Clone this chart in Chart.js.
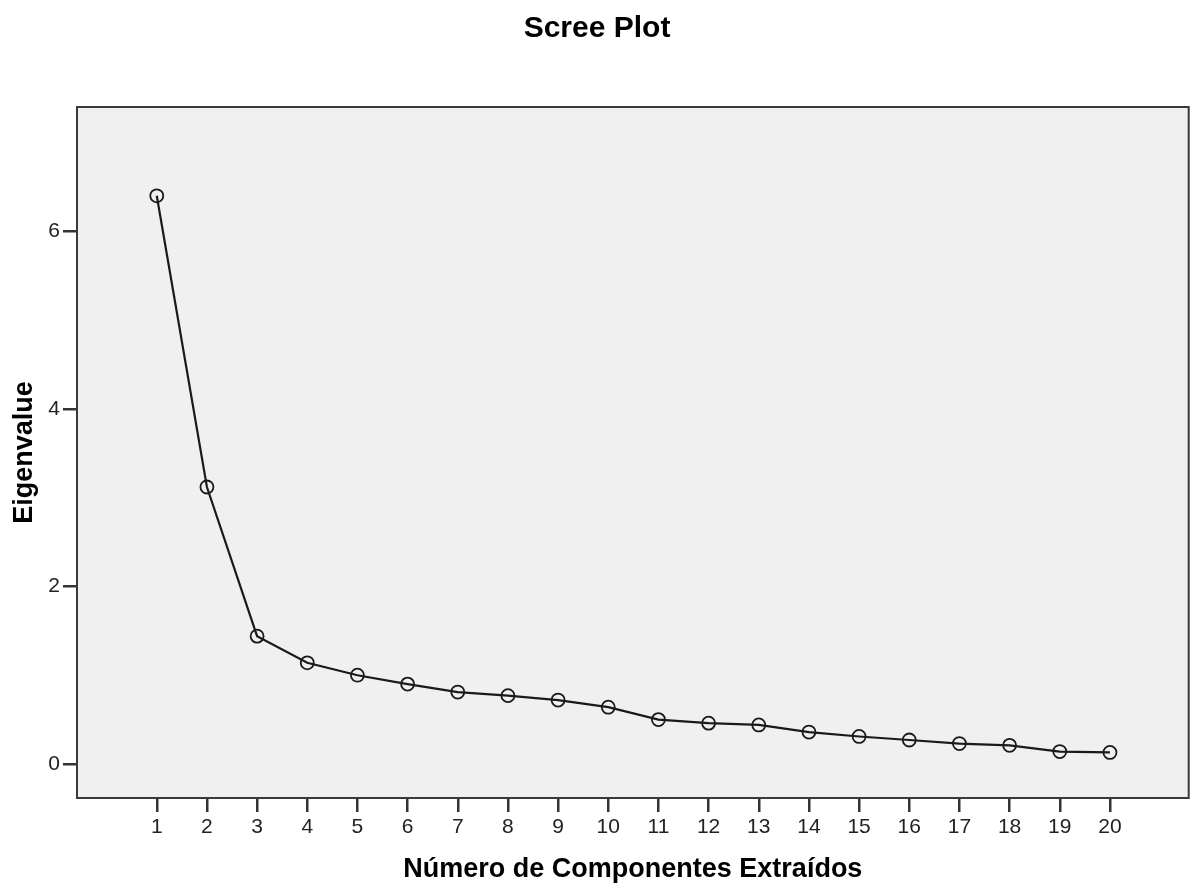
<!DOCTYPE html>
<html>
<head>
<meta charset="utf-8">
<script src="https://cdn.jsdelivr.net/npm/chart.js@4/dist/chart.umd.min.js"></script>
<style>
  html, body { margin: 0; padding: 0; background: #fff; }
  #wrap { width: 1197px; height: 893px; }
</style>
</head>
<body>
<div id="wrap"><canvas id="scree"></canvas></div>
<script>
// component numbers and their eigenvalues
const components = [1, 2, 3, 4, 5, 6, 7, 8, 9, 10, 11, 12, 13, 14, 15, 16, 17, 18, 19, 20];
const eigenvalues = [6.40, 3.12, 1.44, 1.14, 1.00, 0.90, 0.81, 0.77, 0.72, 0.64,
                     0.50, 0.46, 0.44, 0.36, 0.31, 0.27, 0.23, 0.21, 0.14, 0.13];
const yTicks = [0, 2, 4, 6];

const FONT = "'Liberation Sans', Arial, sans-serif";

// grey plot background and a frame all round
const plotFrame = {
  id: "plotFrame",
  beforeDraw(chart) {
    const { ctx, chartArea: a } = chart;
    ctx.save();
    ctx.fillStyle = "#f0f0f0";
    ctx.fillRect(a.left, a.top, a.right - a.left, a.bottom - a.top);
    ctx.restore();
  },
  afterDraw(chart) {
    const { ctx, chartArea: a } = chart;
    ctx.save();
    ctx.strokeStyle = "#3a3a3a";
    ctx.lineWidth = 2;
    ctx.strokeRect(a.left, a.top, a.right - a.left, a.bottom - a.top);
    ctx.restore();
  },
};

new Chart(document.getElementById("scree"), {
  type: "scatter",
  data: {
    datasets: [
      {
        data: components.map((c, i) => ({ x: c, y: eigenvalues[i] })),
        showLine: true,
        borderColor: "#1a1a1a",
        borderWidth: 2.2,
        pointRadius: 6.5,
        pointBorderWidth: 1.8,
        pointBorderColor: "#1a1a1a",
        pointBackgroundColor: "rgba(0,0,0,0)",
        pointStyle: "circle",
        tension: 0,
      },
    ],
  },
  plugins: [plotFrame],
  options: {
    responsive: true,
    maintainAspectRatio: false,
    animation: false,
    layout: { padding: { left: 0, right: 3, top: 0, bottom: 0 } },
    scales: {
      x: {
        type: "linear",
        min: -0.59,
        max: 21.57,
        afterBuildTicks: (s) => { s.ticks = components.map((v) => ({ value: v })); },
        afterFit: (s) => { s.height = 95; },
        border: { display: false },
        grid: { drawOnChartArea: false, drawTicks: true, tickLength: 14, tickColor: "#333", lineWidth: 2.5 },
        ticks: { padding: 3, color: "#222", font: { family: FONT, size: 21 }, maxRotation: 0, autoSkip: false },
        title: {
          display: true,
          text: "Número de Componentes Extraídos",
          color: "#000",
          font: { family: FONT, size: 27, weight: "bold" },
          padding: { top: 0, bottom: 7 },
        },
      },
      y: {
        type: "linear",
        min: -0.383,
        max: 7.4,
        afterBuildTicks: (s) => { s.ticks = yTicks.map((v) => ({ value: v })); },
        afterFit: (s) => { s.width = 77; },
        border: { display: false },
        grid: { drawOnChartArea: false, drawTicks: true, tickLength: 14, tickColor: "#333", lineWidth: 2.5 },
        ticks: { padding: 3, color: "#222", font: { family: FONT, size: 21 } },
        title: {
          display: true,
          text: "Eigenvalue",
          color: "#000",
          font: { family: FONT, size: 27, weight: "bold" },
          padding: { top: 8, bottom: 0 },
        },
      },
    },
    plugins: {
      legend: { display: false },
      tooltip: { enabled: false },
      title: {
        display: true,
        text: "Scree Plot",
        color: "#000",
        font: { family: FONT, size: 30, weight: "bold" },
        padding: { top: 11, bottom: 60 },
      },
    },
  },
});
</script>
</body>
</html>
